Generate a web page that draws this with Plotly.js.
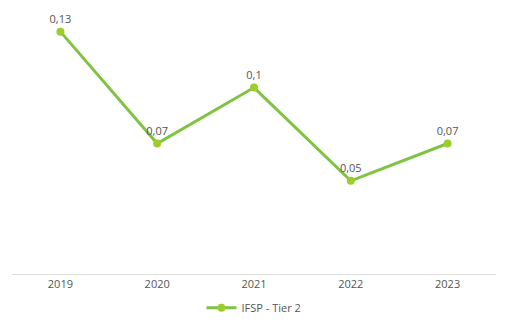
<!DOCTYPE html>
<html>
<head>
<meta charset="utf-8">
<script src="https://cdn.plot.ly/plotly-3.0.1.min.js"></script>
<style>html,body{margin:0;padding:0;background:#fff;}#chart{width:508px;height:324px;}</style>
</head>
<body>
<div id="chart"></div>
<script>
const years = ['2019', '2020', '2021', '2022', '2023'];
const values = [0.13, 0.07, 0.1, 0.05, 0.07];
const seriesName = 'IFSP - Tier 2';
const labels = values.map(v => String(v).replace('.', ','));

const trace = {
  x: years,
  y: values,
  type: 'scatter',
  mode: 'lines+markers+text',
  name: seriesName,
  text: labels,
  textposition: 'top center',
  textfont: {family: '"Open Sans", Lato, sans-serif', size: 11, color: '#555555'},
  line: {color: '#80c342', width: 3},
  marker: {color: '#9ccd2a', size: 8},
  cliponaxis: false,
  hoverinfo: 'none'
};

const layout = {
  width: 508,
  height: 324,
  margin: {l: 12, r: 12, t: 13, b: 50},
  paper_bgcolor: '#ffffff',
  plot_bgcolor: '#ffffff',
  font: {family: '"Open Sans", Lato, sans-serif', size: 11, color: '#555555'},
  xaxis: {
    type: 'category',
    range: [-0.5, 4.5],
    showgrid: false,
    zeroline: false,
    showline: true,
    linecolor: '#dddddd',
    linewidth: 1,
    ticks: '',
    automargin: false,
    tickfont: {size: 11, color: '#555555'}
  },
  yaxis: {
    range: [0, 0.14],
    showgrid: false,
    zeroline: false,
    showline: false,
    showticklabels: false,
    automargin: false
  },
  showlegend: true,
  legend: {
    orientation: 'h',
    x: 0.5,
    xref: 'container',
    xanchor: 'center',
    y: 0.05,
    yref: 'container',
    yanchor: 'middle',
    font: {size: 11, color: '#555555'}
  }
};

Plotly.newPlot('chart', [trace], layout, {displayModeBar: false, staticPlot: true});
</script>
</body>
</html>
